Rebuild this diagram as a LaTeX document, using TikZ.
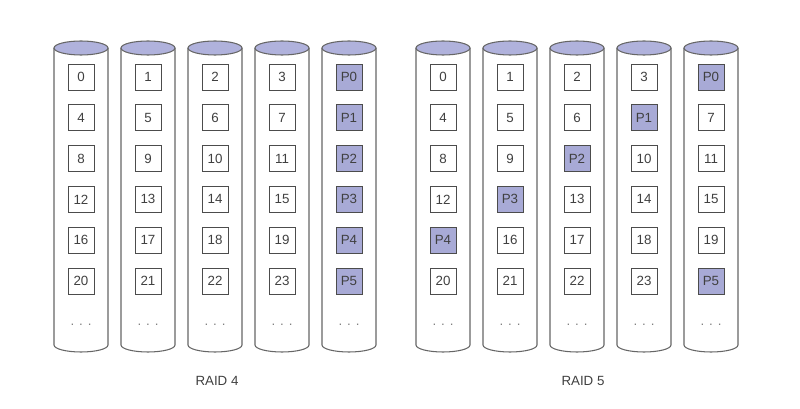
\documentclass[tikz,border=0pt]{standalone}
\usepackage{fontspec}
\setmainfont{Liberation Sans}
\usetikzlibrary{positioning}
\usetikzlibrary{calc}
\definecolor{disktop}{RGB}{176,178,220}
\definecolor{parity}{RGB}{168,170,214}
\tikzset{
    blk/.style={draw=black!70, semithick, minimum size=19.5pt, inner sep=0pt, font=\normalsize, text=black!75},
    par/.style={blk, fill=parity},
    cyl/.style={draw=black!60, thick},
}
\begin{document}
\begin{tikzpicture}[x=0.75pt,y=-0.75pt]
\useasboundingbox (0,0) rectangle (800,409);

% disks: left x of each cylinder
\foreach \g/\xs in {4/54, 5/416} {
  \foreach \d in {0,...,4} {
    \pgfmathsetmacro{\xl}{\xs+67*\d}
    \coordinate (c\g-\d) at (\xl+27,48);
    \path[draw, cyl, fill=white] (\xl,48) -- (\xl,345) arc[start angle=180, end angle=0, x radius=27, y radius=7] -- (\xl+54,48);
    \path[draw, cyl, fill=disktop] (c\g-\d) ellipse [x radius=27, y radius=7];
    \node[text=black!50] (dots\g-\d) at (\xl+27,325) {. . .};
  }
}

% RAID 4 blocks
\foreach \r in {0,...,5} {
  \foreach \d in {0,...,3} {
    \pgfmathtruncatemacro{\n}{4*\r+\d}
    \node[blk] (a\d-\r) at ($(c4-\d)+(0,29+40.8*\r)$) {\n};
  }
  \node[par] (a4-\r) at ($(c4-4)+(0,29+40.8*\r)$) {P\r};
}

% RAID 5 blocks (parity rotates)
\foreach \r in {0,...,5} {
  \pgfmathtruncatemacro{\p}{mod(4-\r+10,5)}
  \foreach \d in {0,...,4} {
    \ifnum\d=\p
      \node[par] (b\d-\r) at ($(c5-\d)+(0,29+40.8*\r)$) {P\r};
    \else
      \pgfmathtruncatemacro{\n}{\d<\p ? 4*\r+\d : 4*\r+\d-1}
      \node[blk] (b\d-\r) at ($(c5-\d)+(0,29+40.8*\r)$) {\n};
    \fi
  }
}

\node[text=black!75] (raid4) at (217,381) {RAID 4};
\node[text=black!75] (raid5) at (583,381) {RAID 5};

\end{tikzpicture}
\end{document}
